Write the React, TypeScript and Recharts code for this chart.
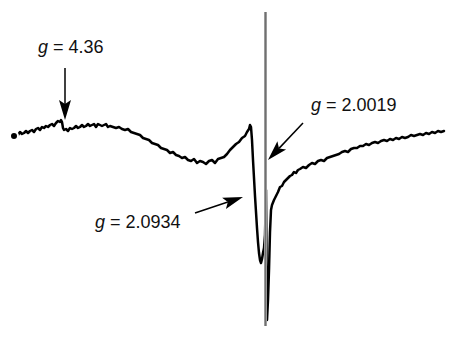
import React from 'react';
import { LineChart, Line, XAxis, YAxis, ReferenceLine } from 'recharts';

// magnetic field (arbitrary units across the sweep)
const field = [
  14, 16, 18, 20, 22, 24, 26, 28, 30, 32, 34, 36, 38, 40, 42, 44, 46, 48, 50, 52, 54, 56, 58, 60, 61, 62, 63, 64, 66,
  68, 70, 72, 74, 76, 78, 80, 82, 84, 86, 88, 90, 92, 94, 96, 98, 100, 102, 104, 106, 108, 110, 113, 116, 119, 122,
  125, 128, 131, 134, 137, 140, 143, 146, 149, 152, 155, 158, 161, 164, 167, 170, 173, 176, 179, 182, 185, 188,
  191, 194, 197, 200, 203, 206, 209, 212, 215, 218, 221, 224, 227, 230, 233, 236, 239, 242, 245, 247, 249, 250,
  251, 252, 253, 254, 255, 256, 257, 258, 259, 260, 261, 262, 263, 264, 265, 266, 267, 268, 269, 270, 271, 272,
  274, 276, 278, 280, 282, 284, 286, 288, 290, 292, 294, 296, 298, 300, 303, 306, 309, 312, 315, 318, 321, 324,
  327, 330, 333, 336, 339, 342, 345, 348, 351, 354, 357, 360, 363, 366, 369, 372, 375, 378, 381, 384, 387, 390,
  393, 396, 399, 402, 405, 408, 411, 414, 417, 420, 423, 426, 429, 432, 435, 438, 441, 444, 447, 450, 453, 456,
  459, 462, 464,
];

// first-derivative EPR signal (arbitrary units)
const signal = [
  4, 6, 5, 8, 6, 7, 9, 7, 9, 10, 8, 11, 12, 10, 13, 12, 14, 13, 15, 16, 14, 17, 19, 18, 20, 18, 12, 10, 11,
  9, 12, 11, 12, 14, 12, 13, 15, 13, 14, 16, 14, 15, 16, 13, 16, 15, 14, 15, 16, 13, 14, 13, 12, 13, 11, 10,
  11, 8, 7, 6, 5, 2, 1, 0, -3, -4, -5, -8, -9, -10, -13, -12, -15, -16, -18, -17, -20, -21, -19, -23, -21, -22,
  -24, -21, -20, -23, -19, -18, -17, -14, -10, -7, -4, -2, 2, 4, 8, 11, 15, 13, 0, -20, -38, -56, -72, -88, -102,
  -113, -120, -123, -119, -113, -108, -95, -50, -180, -160, -130, -92, -70, -65, -60, -56, -52, -47, -46, -42,
  -40, -38, -36, -35, -32, -33, -30, -29, -27, -28, -25, -23, -24, -21, -20, -21, -18, -17, -16, -15, -14, -12,
  -11, -12, -9, -8, -8, -6, -6, -4, -5, -3, -2, -3, -1, 0, -1, 1, 0, 2, 1, 3, 2, 3, 5, 4, 5, 6, 5, 7, 6, 8, 7,
  9, 8, 9,
];

const data = field.map((f, i) => ({ field: f, signal: signal[i] }));

type ArrowProps = { x1?: number; y1?: number; x2?: number; y2?: number };

const Arrow = ({ x1 = 0, y1 = 0, x2 = 0, y2 = 0 }: ArrowProps) => {
  const dx = x2 - x1;
  const dy = y2 - y1;
  const len = Math.sqrt(dx * dx + dy * dy) || 1;
  const ux = dx / len;
  const uy = dy / len;
  const head = 20;
  const half = 6;
  const bx = x2 - ux * head;
  const by = y2 - uy * head;
  const pts = `${x2},${y2} ${bx - uy * half},${by + ux * half} ${bx + ux * 4},${by + uy * 4} ${bx + uy * half},${by - ux * half}`;
  return (
    <g>
      <line x1={x1} y1={y1} x2={bx + ux * 4} y2={by + uy * 4} stroke="#000" strokeWidth={1.5} />
      <polygon points={pts} fill="#000" />
    </g>
  );
};

const labelStyle: React.CSSProperties = {
  position: 'absolute',
  fontFamily: '"Liberation Sans", Arial, sans-serif',
  fontSize: 18,
  color: '#111',
  whiteSpace: 'nowrap',
  lineHeight: 1,
};

const G = () => <span style={{ fontStyle: 'italic' }}>g</span>;

export default function App() {
  return (
    <div style={{ position: 'absolute', left: 0, top: 0, width: 464, height: 354, background: '#fff' }}>
      <LineChart width={464} height={354} data={data} margin={{ top: 0, right: 0, bottom: 0, left: 0 }}>
        <XAxis dataKey="field" type="number" domain={[0, 464]} hide />
        <YAxis type="number" domain={[-214, 140]} hide />
        <Line
          dataKey="signal"
          type="linear"
          stroke="#000"
          strokeWidth={2.5}
          strokeLinejoin="round"
          strokeLinecap="round"
          dot={false}
          isAnimationActive={false}
        />
        <ReferenceLine
          segment={[{ x: 265.5, y: 128 }, { x: 265.5, y: -186 }]}
          stroke="#9a9a9a"
          strokeWidth={3}
        />
        <ReferenceLine
          segment={[{ x: 265.5, y: 128 }, { x: 265.5, y: -186 }]}
          stroke="#666"
          strokeWidth={0.8}
        />
        <ReferenceLine segment={[{ x: 65, y: 72 }, { x: 65, y: 20 }]} shape={(p: ArrowProps) => <Arrow {...p} />} />
        <ReferenceLine segment={[{ x: 303, y: 17 }, { x: 268, y: -20 }]} shape={(p: ArrowProps) => <Arrow {...p} />} />
        <ReferenceLine segment={[{ x: 195, y: -73 }, { x: 243, y: -57 }]} shape={(p: ArrowProps) => <Arrow {...p} />} />
      </LineChart>
      <div style={{ ...labelStyle, left: 38, top: 38 }}>
        <G /> = 4.36
      </div>
      <div style={{ ...labelStyle, left: 311, top: 96 }}>
        <G /> = 2.0019
      </div>
      <div style={{ ...labelStyle, left: 95, top: 213 }}>
        <G /> = 2.0934
      </div>
    </div>
  );
}
